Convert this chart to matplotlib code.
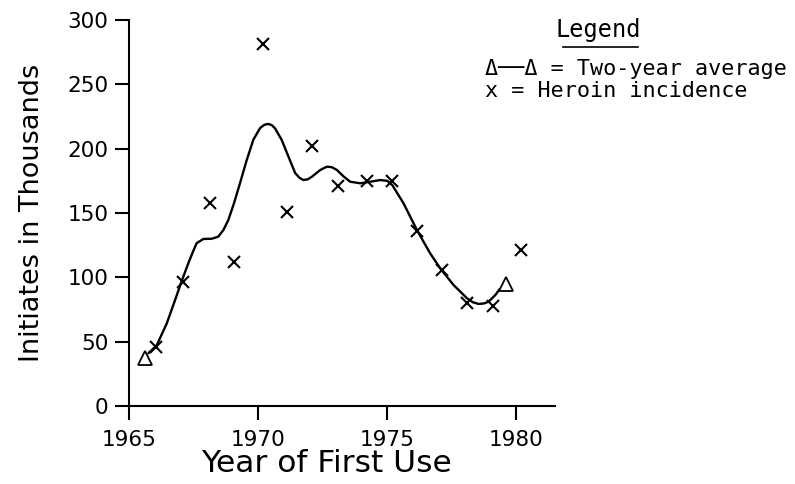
import matplotlib
matplotlib.use("Agg")
import matplotlib.pyplot as plt

# heroin incidence (thousands)
inc_year = [1966.05, 1967.09, 1968.13, 1969.07, 1970.2, 1971.1, 1972.1, 1973.1,
            1974.2, 1975.18, 1976.17, 1977.14, 1978.09, 1979.1, 1980.17]
inc_val = [46, 96, 158, 112, 281, 151, 202, 171, 175, 175, 136, 106, 80, 78, 121]

# two-year average smooth curve, traced points
avg_year = [1965.74, 1966.06, 1966.45, 1966.77, 1967.03, 1967.29, 1967.45, 1967.61,
            1967.87, 1968.2, 1968.45, 1968.65, 1968.84, 1969.05, 1969.29, 1969.55,
            1969.81, 1970.07, 1970.23, 1970.39, 1970.53, 1970.65, 1970.91, 1971.17,
            1971.43, 1971.6, 1971.75, 1971.92, 1972.08, 1972.4, 1972.66, 1972.85,
            1973.05, 1973.3, 1973.56, 1973.95, 1974.34, 1974.73, 1975.0, 1975.2,
            1975.63, 1976.15, 1976.66, 1977.05, 1977.57, 1978.09, 1978.32, 1978.54,
            1978.75, 1978.93, 1979.19, 1979.35]
avg_val = [41, 47, 64, 82, 97, 111, 119, 126.5, 129.8, 130, 131.6, 136.8, 144.6, 157,
           173, 191, 207, 216, 218.5, 219.2, 218.2, 215.8, 206.7, 193.8, 181, 177.3,
           175.6, 176.2, 178.2, 183.4, 186, 185.6, 183.4, 178.5, 174.3, 173.1, 174.3,
           175.6, 175, 171.5, 157.5, 136.7, 118.7, 107, 94, 83.7, 80.6, 79.3, 79.7,
           81.1, 86.3, 90.7]

# end-point triangles
tri_year = [1965.6, 1979.61]
tri_val = [37, 95]

fig = plt.figure(figsize=(7.95, 4.84), dpi=100)
ax = fig.add_axes([0.1626, 0.1612, 0.5355, 0.7975])

ax.plot(avg_year, avg_val, color="black", lw=1.7, solid_joinstyle="round",
        solid_capstyle="round")
ax.plot(inc_year, inc_val, "x", color="black", ms=8, mew=1.5)
ax.plot(tri_year, tri_val, "^", mfc="white", mec="black", ms=10, mew=1.3)

ax.set_xlim(1965, 1981.5)
ax.set_ylim(0, 300)
ax.set_xticks([1965, 1970, 1975, 1980])
ax.set_yticks(range(0, 301, 50))
ax.spines["top"].set_visible(False)
ax.spines["right"].set_visible(False)
for s in ("left", "bottom"):
    ax.spines[s].set_linewidth(1.5)
ax.tick_params(direction="out", length=10, width=1.5, labelsize=15.5)
ax.tick_params(axis="x", pad=7)
ax.tick_params(axis="y", pad=5)

ax.set_xlabel("Year of First Use", fontsize=22.5)
ax.xaxis.set_label_coords(0.462, -0.112)
ax.set_ylabel("Initiates in Thousands", fontsize=19.5)
ax.yaxis.set_label_coords(-0.197, 0.5)

fig.text(0.752, 0.937, "Legend", fontsize=17, family="DejaVu Sans Mono",
         ha="center", va="center")
fig.add_artist(plt.Line2D([0.708, 0.802], [0.903, 0.903], color="black", lw=1.2))
fig.text(0.61, 0.857, "Δ──Δ = Two-year average", fontsize=15.7,
         family="DejaVu Sans Mono", ha="left", va="center")
fig.text(0.61, 0.812, "x = Heroin incidence", fontsize=15.7,
         family="DejaVu Sans Mono", ha="left", va="center")

fig.savefig("out.png", dpi=100)
